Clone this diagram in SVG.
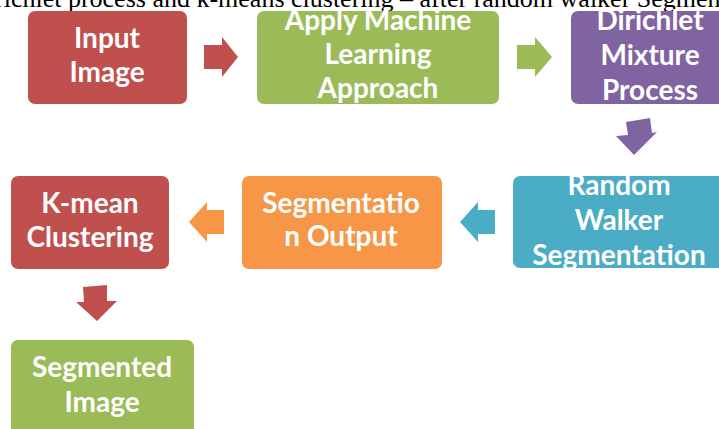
<svg xmlns="http://www.w3.org/2000/svg" width="719" height="429" viewBox="0 0 719 429">
  <style>
    .lbl { font-family: Lato, "Open Sans", "DejaVu Sans", sans-serif; font-weight: bold; font-size: 28px; fill: #ffffff; text-anchor: middle; }
    .cap { font-family: "Liberation Serif", "Times New Roman", serif; font-size: 26px; fill: #000000; }
    .red { fill: #C0504D; }
    .green { fill: #9BBB59; }
    .purple { fill: #8064A2; }
    .teal { fill: #4BACC6; }
    .orange { fill: #F79646; }
  </style>
  <rect width="719" height="429" fill="#ffffff"/>

  <!-- caption line above the chart, cut by the top edge -->
  <text class="cap" x="-5" y="7">richlet process and k-means clustering – after random walker Segmentation</text>

  <g id="input-image">
    <rect class="red" x="28" y="11" width="159" height="93" rx="7"/>
    <text class="lbl" x="107" y="48">Input</text>
    <text class="lbl" x="107" y="82">Image</text>
  </g>

  <g id="apply-ml">
    <rect class="green" x="257" y="11" width="242" height="93" rx="7"/>
    <text class="lbl" x="378" y="30">Apply Machine</text>
    <text class="lbl" x="378" y="64">Learning</text>
    <text class="lbl" x="378" y="98">Approach</text>
  </g>

  <g id="dirichlet">
    <rect class="purple" x="571" y="11" width="160" height="93" rx="7"/>
    <text class="lbl" x="650" y="30">Dirichlet</text>
    <text class="lbl" x="650" y="65">Mixture</text>
    <text class="lbl" x="650" y="100">Process</text>
  </g>

  <g id="random-walker">
    <rect class="teal" x="513" y="176" width="212" height="92" rx="7"/>
    <text class="lbl" x="619" y="195">Random</text>
    <text class="lbl" x="619" y="230">Walker</text>
    <text class="lbl" x="619" y="265">Segmentation</text>
  </g>

  <g id="segmentation-output">
    <rect class="orange" x="242" y="176" width="200" height="93" rx="7"/>
    <text class="lbl" x="341" y="213">Segmentatio</text>
    <text class="lbl" x="341" y="246">n Output</text>
  </g>

  <g id="k-mean">
    <rect class="red" x="11" y="176" width="158" height="93" rx="7"/>
    <text class="lbl" x="90" y="213">K-mean</text>
    <text class="lbl" x="90" y="247">Clustering</text>
  </g>

  <g id="segmented-image">
    <rect class="green" x="11" y="340" width="183" height="100" rx="7"/>
    <text class="lbl" x="102" y="377">Segmented</text>
    <text class="lbl" x="102" y="412">Image</text>
  </g>

  <g id="connectors">
    <!-- block arrows between steps -->
    <polygon class="red" points="204,45 222,45 222,37 238,57 222,77 222,69 204,69"/>
    <polygon class="green" points="517,45 535,45 535,37 552,57 535,77 535,69 517,69"/>
    <polygon class="purple" points="626,122 650,118 652,133 657,132 634,155 616,136 628,135" />
    <polygon class="teal" points="495,210 478,210 478,202 460,222 478,242 478,234 495,234"/>
    <polygon class="orange" points="224,210 207,210 207,202 189,222 207,242 207,234 224,234"/>
    <polygon class="red" points="83,287 107,285 107,301 117,301 97,321 76,302 84,302"/>
  </g>
</svg>
